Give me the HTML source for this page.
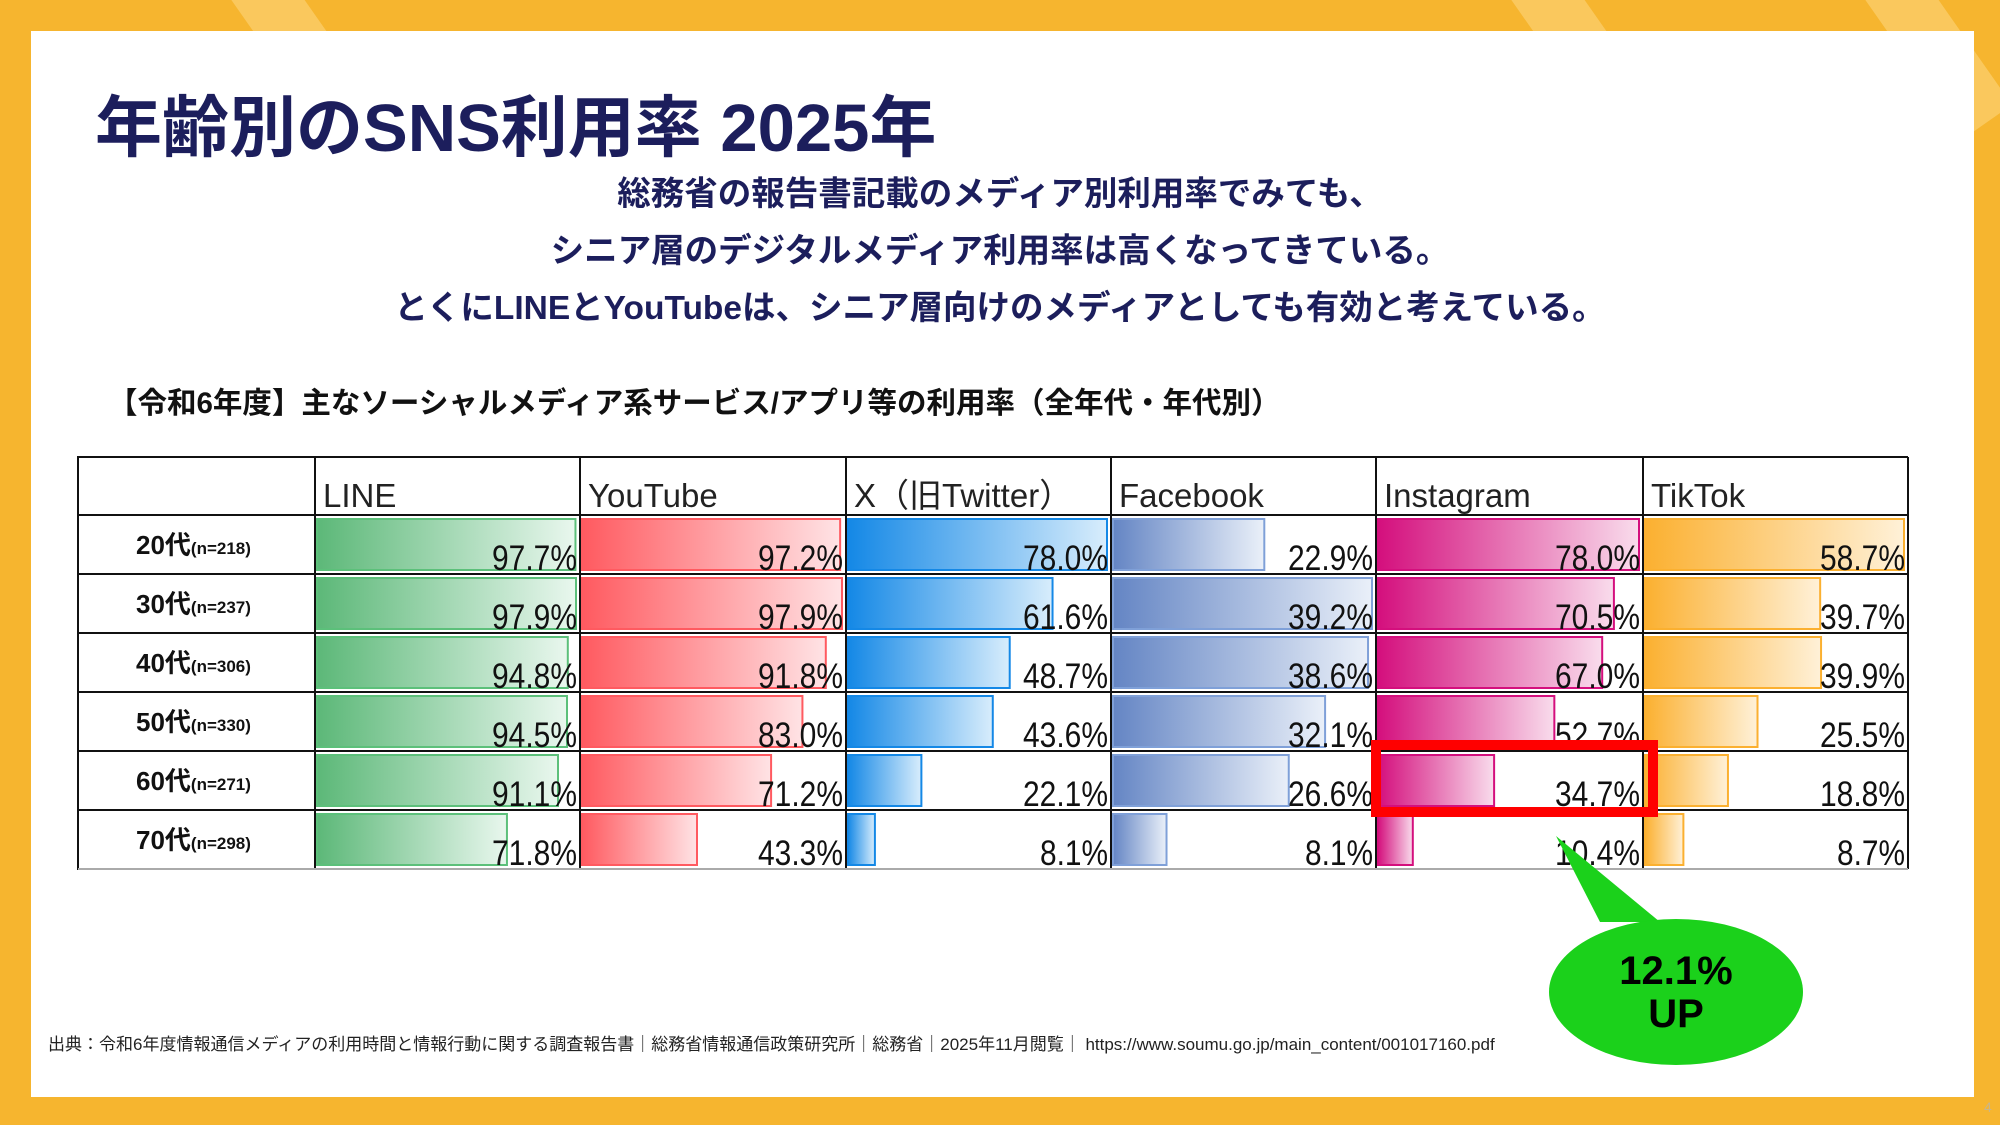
<!DOCTYPE html>
<html><head><meta charset="utf-8">
<style>
html,body{margin:0;padding:0;}
body{width:2000px;height:1125px;position:relative;overflow:hidden;background:#f6b52f;font-family:"Liberation Sans","Noto Sans CJK JP",sans-serif;}
.bgstripe{position:absolute;background:rgba(255,225,150,0.45);transform:rotate(-35deg);}
#card{position:absolute;left:31px;top:31px;width:1943px;height:1066px;background:#fff;}
.abs{position:absolute;}
#title{left:95px;top:74px;font-size:67px;font-weight:bold;color:#1c1e5c;white-space:nowrap;}
.sub{left:0;width:2000px;text-align:center;font-size:33.5px;font-weight:bold;color:#1c1e5c;white-space:nowrap;}
#sec{left:108px;top:380px;font-size:29.5px;font-weight:bold;color:#111;white-space:nowrap;}
#foot{left:48px;top:1030px;font-size:17px;color:#222;white-space:nowrap;}
</style></head>
<body>
<div class="bgstripe" style="left:280px;top:-40px;width:60px;height:200px;"></div>
<div class="bgstripe" style="left:1560px;top:-40px;width:60px;height:200px;"></div>
<div class="bgstripe" style="left:1900px;top:-60px;width:60px;height:200px;"></div>
<div id="card"></div>
<div id="title" class="abs">年齢別のSNS利用率 2025年</div>
<div class="abs sub" style="top:166px">総務省の報告書記載のメディア別利用率でみても、</div>
<div class="abs sub" style="top:223px">シニア層のデジタルメディア利用率は高くなってきている。</div>
<div class="abs sub" style="top:280px">とくにLINEとYouTubeは、シニア層向けのメディアとしても有効と考えている。</div>
<div id="sec" class="abs">【令和6年度】主なソーシャルメディア系サービス/アプリ等の利用率（全年代・年代別）</div>
<svg id="chart" class="abs" style="left:0;top:0" width="2000" height="1125"></svg>
<div id="foot" class="abs">出典：令和6年度情報通信メディアの利用時間と情報行動に関する調査報告書｜総務省情報通信政策研究所｜総務省｜2025年11月閲覧｜ https://www.soumu.go.jp/main_content/001017160.pdf</div>
<script>
const services = ["LINE","YouTube","X（旧Twitter）","Facebook","Instagram","TikTok"];
const ageGroups = ["20代","30代","40代","50代","60代","70代"];
const sampleSizes = ["(n=218)","(n=237)","(n=306)","(n=330)","(n=271)","(n=298)"];
const lineValues = [97.7,97.9,94.8,94.5,91.1,71.8];
const youtubeValues = [97.2,97.9,91.8,83.0,71.2,43.3];
const xValues = [78.0,61.6,48.7,43.6,22.1,8.1];
const facebookValues = [22.9,39.2,38.6,32.1,26.6,8.1];
const instagramValues = [78.0,70.5,67.0,52.7,34.7,10.4];
const tiktokValues = [58.7,39.7,39.9,25.5,18.8,8.7];
const seriesValues = [lineValues,youtubeValues,xValues,facebookValues,instagramValues,tiktokValues];

const NS="http://www.w3.org/2000/svg";
const svg=document.getElementById('chart');
function mk(tag,attrs,parent){const e=document.createElementNS(NS,tag);for(const k in attrs)e.setAttribute(k,attrs[k]);(parent||svg).appendChild(e);return e;}
const colEdges=[315,580,846,1111,1376,1643,1908];
const tableLeft=78, headTop=457, headBottom=515, rowH=59;
const palettes=[["#5cb878","#e9f7ee","#5cc07a"],["#ff5a60","#ffe3e5","#ff5a60"],["#1488e6","#d8edfc","#1488e6"],["#6485c4","#eaf0f9","#7fa0d8"],["#d40f7d","#f9dcec","#d40f7d"],["#fbb030","#fff1d8","#fbb030"]];
const defs=mk('defs',{});
palettes.forEach((p,i)=>{const g=mk('linearGradient',{id:'g'+i,x1:'0',x2:'1',y1:'0',y2:'0'},defs);mk('stop',{offset:'0','stop-color':p[0]},g);mk('stop',{offset:'1','stop-color':p[1]},g);});
function xScale(ci,v){const w=colEdges[ci+1]-colEdges[ci]-6;const m=Math.max(...seriesValues[ci]);return v/m*w;}
function rowTop(r){return headBottom+r*rowH;}
services.forEach((s,i)=>{
  const t=mk('text',{x:colEdges[i]+8,y:headBottom-8,'font-size':33,fill:'#222'});
  t.textContent=s;
  
  
});
ageGroups.forEach((a,r)=>{
  const y0=rowTop(r);
  const t=mk('text',{x:136,y:y0+39,'font-size':26,'font-weight':'bold',fill:'#111'});
  
  
  t.textContent=a;
  const ts=mk('tspan',{'font-size':17},t);ts.textContent=sampleSizes[r];
  seriesValues.forEach((vals,ci)=>{
    const v=vals[r];
    const b=mk('rect',{x:colEdges[ci]+2,y:y0+4,width:xScale(ci,v),height:rowH-8,fill:'url(#g'+ci+')',stroke:palettes[ci][2],'stroke-width':2});
    
    
    const str=v.toFixed(1)+'%';
    const vt=mk('text',{x:colEdges[ci+1]-3,y:y0+rowH-4,'font-size':35,'text-anchor':'end',fill:'#111',textLength:str.length*17,lengthAdjust:'spacingAndGlyphs'});
    vt.textContent=str;
    
    
  });
});
const bottom=rowTop(ageGroups.length);
mk('rect',{x:tableLeft,y:headTop,width:colEdges[0]-tableLeft,height:bottom-headTop,fill:'none',stroke:'#111','stroke-width':2});
mk('line',{x1:colEdges[0],y1:headTop,x2:colEdges[6],y2:headTop,stroke:'#111','stroke-width':2});
colEdges.forEach(x=>mk('line',{x1:x,y1:headTop,x2:x,y2:bottom,stroke:'#111','stroke-width':2}));
for(let r=0;r<=ageGroups.length;r++){const y=rowTop(r);mk('line',{x1:tableLeft,y1:y,x2:colEdges[6],y2:y,stroke:r==ageGroups.length?'#aaa':'#111','stroke-width':2});}
const hb=mk('rect',{x:1376,y:745,width:277,height:67,fill:'none',stroke:'#ff0000','stroke-width':10});


const cp=mk('path',{d:'M1556,836 L1600,922 L1660,922 Z',fill:'#1bd11b'});


const ce=mk('ellipse',{cx:1676,cy:992,rx:127,ry:73,fill:'#1bd11b'});


[['12.1%',984],['UP',1027]].forEach(([s,y])=>{const t=mk('text',{x:1676,y:y,'font-size':40,'font-weight':'bold','text-anchor':'middle',fill:'#000'});t.textContent=s;

});
const pn=mk('text',{x:1984,y:1112,'font-size':14,fill:'#c9b58a'});pn.textContent='4';


</script>
</body></html>
